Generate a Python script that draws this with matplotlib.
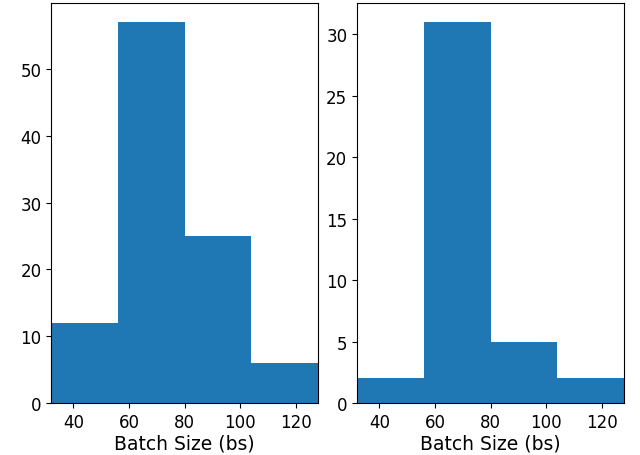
import numpy as np
import matplotlib.pyplot as plt

# histogram bin edges (batch size) and counts per bin
bin_edges = [32, 56, 80, 104, 128]
counts_left = [12, 57, 25, 6]
counts_right = [2, 31, 5, 2]

fig, (ax1, ax2) = plt.subplots(1, 2, figsize=(6.4, 4.56), dpi=100)

for ax, counts in [(ax1, counts_left), (ax2, counts_right)]:
    ax.hist(bin_edges[:-1], bins=bin_edges, weights=counts, color="#1f77b4")
    ax.set_xlim(bin_edges[0], bin_edges[-1])
    ax.set_xticks([40, 60, 80, 100, 120])
    ax.tick_params(labelsize=12)
    ax.set_xlabel("Batch Size (bs)", fontsize=13.5, labelpad=2)

plt.subplots_adjust(left=0.08, right=0.975, top=0.991, bottom=0.114, wspace=0.146)
plt.savefig("out.png", dpi=100)
